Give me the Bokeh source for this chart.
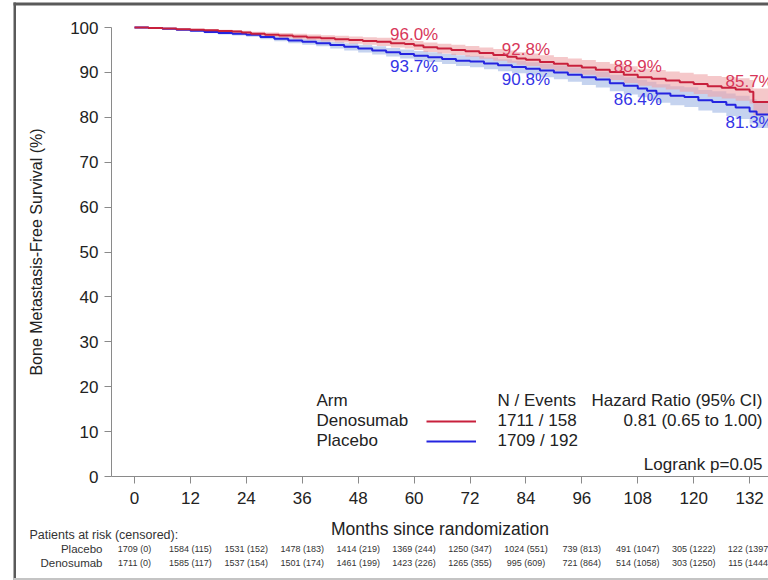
from bokeh.plotting import figure
from bokeh.models import (Range1d, Label, LabelSet, ColumnDataSource, Legend,
                          LegendItem, BoxAnnotation, LinearAxis)
from bokeh.core.properties import value
from bokeh.embed import file_html
from bokeh.resources import INLINE

FONT = "Liberation Sans"

# Kaplan-Meier estimates: months since randomization vs. % bone-metastasis-free
deno_months = [0, 3, 6, 9, 12, 15, 18, 21, 23, 25, 28, 31, 34, 37, 40, 43, 46, 49,
               52, 55, 58, 60, 62, 65, 68, 71, 74, 77, 80, 82, 84, 87, 90, 93, 96,
               99, 102, 105, 108, 111, 114, 117, 120, 123, 126, 129, 132, 132.8, 137]
deno_surv = [100, 99.9, 99.8, 99.6, 99.5, 99.4, 99.2, 99.1, 98.9, 98.6, 98.4, 98.2,
             98.0, 97.8, 97.6, 97.4, 97.2, 97.0, 96.8, 96.5, 96.3, 96.0, 95.6, 95.3,
             95.0, 94.7, 94.3, 93.9, 93.5, 93.1, 92.8, 92.3, 91.9, 91.5, 91.1, 90.6,
             90.1, 89.5, 88.9, 88.6, 88.2, 87.8, 87.4, 86.9, 86.6, 86.2, 85.7, 83.4, 83.4]
deno_ci = [0, 0.05, 0.1, 0.15, 0.2, 0.25, 0.3, 0.35, 0.4, 0.45, 0.5, 0.55, 0.6, 0.65,
           0.7, 0.75, 0.8, 0.85, 0.9, 0.95, 1.0, 1.0, 1.05, 1.1, 1.15, 1.2, 1.25, 1.3,
           1.35, 1.4, 1.4, 1.5, 1.55, 1.6, 1.65, 1.7, 1.8, 1.85, 1.9, 1.95, 2.0, 2.1,
           2.2, 2.3, 2.4, 2.5, 2.6, 3.0, 3.0]

plac_months = [0, 3, 6, 9, 12, 15, 18, 21, 24, 27, 30, 33, 36, 39, 42, 45, 48, 51, 54,
               57, 60, 63, 66, 69, 72, 75, 78, 81, 84, 87, 90, 93, 96, 99, 102, 105,
               108, 110, 112, 115, 118, 121, 124, 127, 129, 132, 133.5, 137]
plac_surv = [100, 99.9, 99.7, 99.5, 99.3, 99.0, 98.8, 98.6, 98.4, 97.9, 97.5, 97.1,
             96.8, 96.5, 96.1, 95.7, 95.3, 94.9, 94.5, 94.1, 93.7, 93.4, 93.0, 92.6,
             92.4, 92.0, 91.6, 91.2, 90.8, 90.4, 90.0, 89.5, 88.9, 88.4, 87.6, 87.0,
             86.4, 85.9, 85.3, 84.8, 84.5, 83.8, 83.4, 82.8, 82.2, 81.3, 80.6, 80.6]
plac_ci = [0, 0.05, 0.1, 0.15, 0.2, 0.3, 0.35, 0.4, 0.45, 0.5, 0.55, 0.6, 0.65, 0.7,
           0.75, 0.8, 0.85, 0.9, 0.95, 1.0, 1.05, 1.1, 1.15, 1.2, 1.25, 1.3, 1.35, 1.4,
           1.45, 1.5, 1.55, 1.6, 1.7, 1.75, 1.8, 1.9, 1.95, 2.0, 2.05, 2.1, 2.2, 2.3,
           2.4, 2.5, 2.6, 2.7, 3.0, 3.0]

# Landmark estimates printed on the curves
landmark_months = [60, 84, 108, 132]
deno_landmark = [96.0, 92.8, 88.9, 85.7]
plac_landmark = [93.7, 90.8, 86.4, 81.3]

# Patients at risk (censored)
risk_months = [0, 12, 24, 36, 48, 60, 72, 84, 96, 108, 120, 132]
plac_at_risk = [1709, 1584, 1531, 1478, 1414, 1369, 1250, 1024, 739, 491, 305, 122]
plac_censored = [0, 115, 152, 183, 219, 244, 347, 551, 813, 1047, 1222, 1397]
deno_at_risk = [1711, 1585, 1537, 1501, 1461, 1423, 1265, 995, 721, 514, 303, 115]
deno_censored = [0, 117, 154, 174, 199, 226, 355, 609, 864, 1058, 1250, 1444]

y_ticks = [0, 10, 20, 30, 40, 50, 60, 70, 80, 90, 100]

RED_LINE = "#c8203c"
RED_TEXT = "#d8375a"
BLUE_LINE = "#2424e0"
BLUE_TEXT = "#3434e6"

W, H = 768, 580
# page-pixel placement of the plotting area: month 0 and 0 % / 100 %
X0_PX, PX_PER_MONTH = 134, 4.66
Y0_PX, Y100_PX = 476, 27
AXIS_PX = 111
px_per_pct = (Y0_PX - Y100_PX) / 100.0

x_start = -X0_PX / PX_PER_MONTH
x_end = (W - X0_PX) / PX_PER_MONTH
y_start = -(H - Y0_PX) / px_per_pct
y_end = 100 + Y100_PX / px_per_pct
x_axis_start = (AXIS_PX - X0_PX) / PX_PER_MONTH


def sx(px):
    return px


def sy(py):
    return H - py


def stepped(ts, vals):
    xs, ys = [], []
    for i, t in enumerate(ts):
        if i > 0:
            xs.append(t)
            ys.append(vals[i - 1])
        xs.append(t)
        ys.append(vals[i])
    return xs, ys


p = figure(width=W, height=H, output_backend="svg", toolbar_location=None,
           x_range=Range1d(x_start, x_end), y_range=Range1d(y_start, y_end),
           x_axis_location=None, y_axis_location=None, min_border=0)
p.outline_line_color = None
p.grid.visible = False
p.background_fill_color = "white"
p.border_fill_color = "white"

# confidence bands
for months, surv, ci, color in [(plac_months, plac_surv, plac_ci, "#9fb5e4"),
                                (deno_months, deno_surv, deno_ci, "#eea3a6")]:
    lo = [s - c for s, c in zip(surv, ci)]
    hi = [s + c for s, c in zip(surv, ci)]
    xs, ylo = stepped(months, lo)
    _, yhi = stepped(months, hi)
    p.varea(x=xs, y1=ylo, y2=yhi, fill_color=color, fill_alpha=0.6)

r_plac = p.step(plac_months, plac_surv, mode="after", line_color=BLUE_LINE, line_width=2)
r_deno = p.step(deno_months, deno_surv, mode="after", line_color=RED_LINE, line_width=2)

p.text(x=landmark_months, y=deno_landmark,
       text=[f"{v:.1f}%" for v in deno_landmark], text_color=RED_TEXT,
       text_font=value(FONT), text_font_size="17px", text_align="center",
       text_baseline="middle", y_offset=-10.5)
p.text(x=landmark_months, y=plac_landmark,
       text=[f"{v:.1f}%" for v in plac_landmark], text_color=BLUE_TEXT,
       text_font=value(FONT), text_font_size="17px", text_align="center",
       text_baseline="middle", y_offset=11)

# axes pinned inside the drawing area
xaxis = LinearAxis(fixed_location=0, bounds=(x_axis_start, x_end), ticker=risk_months,
                   axis_label="Months since randomization")
yaxis = LinearAxis(fixed_location=x_axis_start, bounds=(0, 100), ticker=y_ticks,
                   axis_label="Bone Metastasis-Free Survival (%)")
p.add_layout(xaxis, "below")
p.add_layout(yaxis, "left")
for ax in (xaxis, yaxis):
    ax.axis_line_color = "#8a8a8a"
    ax.major_tick_line_color = "#8a8a8a"
    ax.minor_tick_line_color = None
    ax.major_tick_out = 7
    ax.major_tick_in = 0
    ax.major_label_text_font = FONT
    ax.major_label_text_font_size = "17px"
    ax.major_label_text_color = "#222222"
    ax.axis_label_text_font = FONT
    ax.axis_label_text_font_style = "normal"
    ax.axis_label_text_color = "#222222"
xaxis.major_label_standoff = 8
yaxis.major_label_standoff = 6
xaxis.axis_label_text_font_size = "17.5px"
xaxis.axis_label_standoff = 12
yaxis.axis_label_text_font_size = "16px"
yaxis.axis_label_standoff = 22

# legend lines drawn right of the arm names
legend = Legend(items=[LegendItem(label=" ", renderers=[r_deno]),
                       LegendItem(label=" ", renderers=[r_plac])],
                location=(sx(426), sy(451)), padding=0, margin=0, spacing=0,
                glyph_width=50, glyph_height=20, label_height=20, label_width=0,
                label_standoff=0, label_text_font_size="1px",
                border_line_color=None, background_fill_alpha=0)
p.add_layout(legend)


def add_label(text, px, py, size="17px", align="left", color="#222222"):
    p.add_layout(Label(x=sx(px), y=sy(py), x_units="screen", y_units="screen",
                       text=text, text_font=FONT, text_font_size=size,
                       text_color=color, text_align=align, text_baseline="middle"))


add_label("Arm", 316, 400)
add_label("Denosumab", 316, 420)
add_label("Placebo", 316, 440)
add_label("N / Events", 497, 400)
add_label("1711 / 158", 497, 420)
add_label("1709 / 192", 497, 440)
add_label("Hazard Ratio (95% CI)", 762, 400, align="right")
add_label("0.81 (0.65 to 1.00)", 762, 420, align="right")
add_label("Logrank p=0.05", 762, 464, align="right")

# patients-at-risk table
add_label("Patients at risk (censored):", 29, 534, size="12.5px", color="#333333")
add_label("Placebo", 102, 548, size="11.5px", align="right", color="#333333")
add_label("Denosumab", 102, 562, size="11.5px", align="right", color="#333333")

for at_risk, cens, py in [(plac_at_risk, plac_censored, 548),
                          (deno_at_risk, deno_censored, 562)]:
    src = ColumnDataSource(dict(x=risk_months, y=[sy(py)] * len(risk_months),
                                t=[f"{n} ({c})" for n, c in zip(at_risk, cens)]))
    p.add_layout(LabelSet(x="x", y="y", text="t", source=src, x_units="data",
                          y_units="screen", text_font=value(FONT),
                          text_font_size="9px", text_color="#333333",
                          text_align="center", text_baseline="middle"))

# outer frame edges around the whole figure
for left, right, top, bottom, color in [(13, 15.5, 2, 580, "#5a5a5a"),
                                        (13, W + 5, 2, 5, "#5a5a5a"),
                                        (13, W + 5, 577.5, 580, "#c4c4c4")]:
    p.add_layout(BoxAnnotation(left=sx(left), right=sx(right), top=sy(top),
                               bottom=sy(bottom), left_units="screen",
                               right_units="screen", top_units="screen",
                               bottom_units="screen", fill_color=color,
                               fill_alpha=1, line_color=None))

open("out.html", "w").write(file_html(p, INLINE))
